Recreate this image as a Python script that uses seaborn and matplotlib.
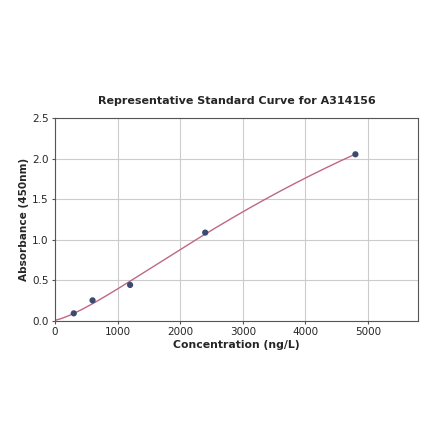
import numpy as np
import pandas as pd
import matplotlib
matplotlib.use('Agg')
import matplotlib.pyplot as plt
import seaborn as sns

# Dados do padrão
concentracao = [300, 600, 1200, 2400, 4800]
absorbancia = [0.095, 0.255, 0.445, 1.09, 2.055]

df = pd.DataFrame({'conc': concentracao, 'abs': absorbancia})

# Ajuste 4PL simples (busca em grade para b e c, minimos quadrados para a e d)
x_fit = np.array([0] + concentracao, dtype=float)
y_fit = np.array([0.0] + absorbancia)
melhor = None
for b in np.linspace(1.0, 3.0, 81):
    for c in np.linspace(1500, 20000, 371):
        g = 1.0 / (1.0 + (x_fit / c) ** b)
        A = np.column_stack([g, 1 - g])
        sol, *_ = np.linalg.lstsq(A, y_fit, rcond=None)
        err = np.sum((A @ sol - y_fit) ** 2)
        if melhor is None or err < melhor[0]:
            melhor = (err, b, c, sol)
_, b, c, (a, d) = melhor
xs = np.linspace(0, 4800, 300)
ys = d + (a - d) / (1 + (xs / c) ** b)
curva = pd.DataFrame({'conc': xs, 'abs': ys})

sns.set_style('whitegrid')
fig = plt.figure(figsize=(4.4, 4.41), dpi=100)
ax = fig.add_axes([0.125, 0.272, 0.825, 0.46])

sns.lineplot(data=curva, x='conc', y='abs', ax=ax, color='#c06782', linewidth=1.0)
sns.scatterplot(data=df, x='conc', y='abs', ax=ax, color='#3b4a6e', s=20, edgecolor='none', zorder=3)

ax.set_xlim(0, 5800)
ax.set_ylim(0, 2.5)
ax.set_xticks([0, 1000, 2000, 3000, 4000, 5000])
ax.set_yticks([0.0, 0.5, 1.0, 1.5, 2.0, 2.5])
ax.set_yticklabels(['0.0', '0.5', '1.0', '1.5', '2.0', '2.5'])
ax.tick_params(labelsize=7.5, length=2.5, pad=2, color='#555555', left=True, bottom=True)
ax.grid(color='#cccccc', linewidth=0.8)
for s in ax.spines.values():
    s.set_color('#555555')
    s.set_linewidth(0.8)

ax.set_title('Representative Standard Curve for A314156', fontsize=8, fontweight='bold', pad=10)
ax.set_xlabel('Concentration (ng/L)', fontsize=7.8, fontweight='bold', labelpad=2)
ax.set_ylabel('Absorbance (450nm)', fontsize=7.6, fontweight='bold', labelpad=2)

plt.savefig('out.png', dpi=100)
